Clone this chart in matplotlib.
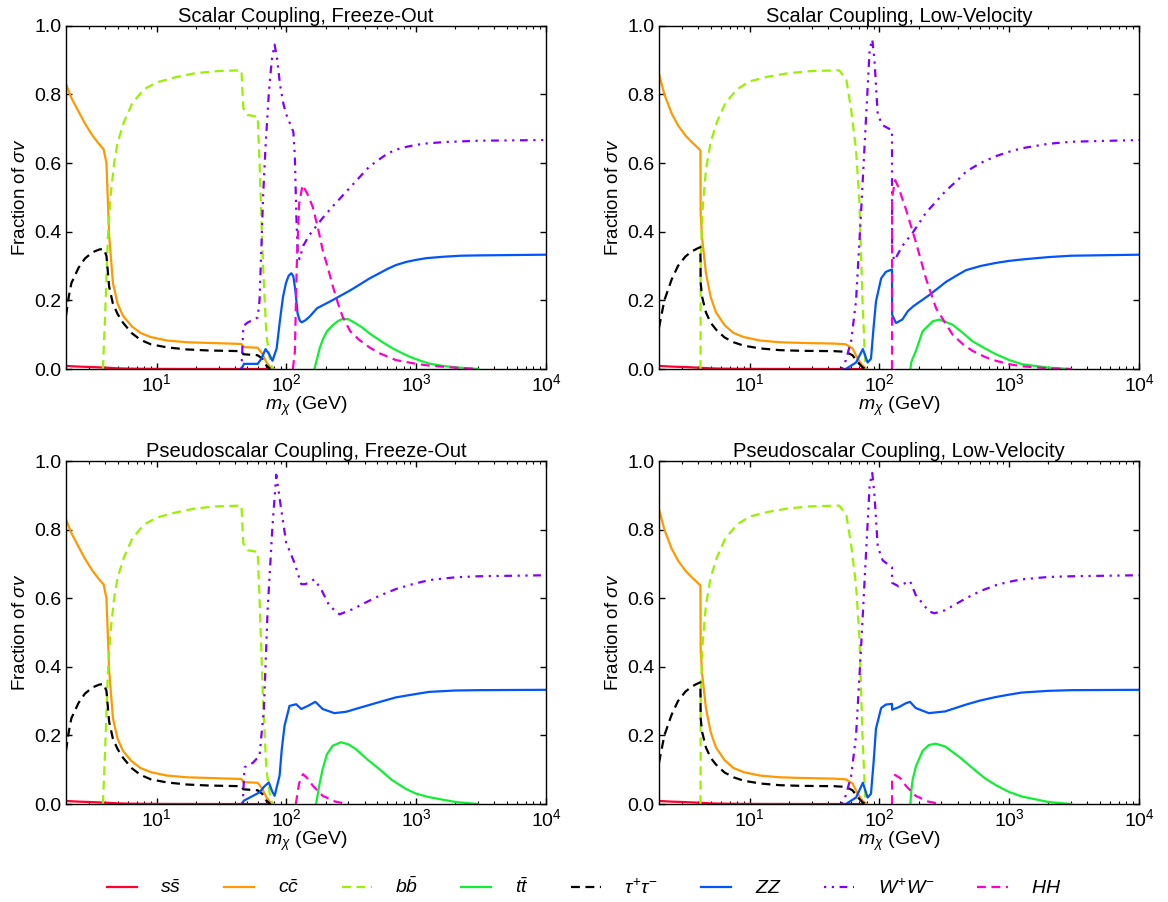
import matplotlib
matplotlib.use("Agg")
import matplotlib.pyplot as plt
from matplotlib.ticker import LogLocator, NullFormatter, FixedLocator

plt.rcParams['font.family'] = ['Liberation Sans', 'DejaVu Sans']
plt.rcParams['mathtext.fontset'] = 'custom'
plt.rcParams['mathtext.rm'] = 'Liberation Sans'
plt.rcParams['mathtext.it'] = 'Liberation Sans:italic'
plt.rcParams['mathtext.bf'] = 'Liberation Sans:bold'

# ---- channel labels ----
labels = [r'$s\bar{s}$', r'$c\bar{c}$', r'$b\bar{b}$', r'$t\bar{t}$',
          r'$\tau^{+}\tau^{-}$', r'$ZZ$', r'$W^{+}W^{-}$', r'$HH$']
titles = ['Scalar Coupling, Freeze-Out', 'Scalar Coupling, Low-Velocity',
          'Pseudoscalar Coupling, Freeze-Out', 'Pseudoscalar Coupling, Low-Velocity']

# ---- light fermions, freeze-out (mass in GeV, fraction of sigma v) ----
fo_ss_m = [2, 2.5, 3, 3.5, 4, 4.5, 5, 6, 8, 12, 30, 80]
fo_ss_f = [0.009, 0.007, 0.006, 0.005, 0.004, 0.003, 0.002, 0.0012, 0.0006, 0.0003, 0.0001, 0]
fo_cc_m = [2, 2.2, 2.5, 2.8, 3.2, 3.6, 3.9, 4.1, 4.3, 4.6, 5.0, 5.5, 6.4, 7.5, 9, 12, 17, 25,
           45, 46.5, 60, 65, 70, 75, 80]
fo_cc_f = [0.83, 0.79, 0.75, 0.715, 0.68, 0.655, 0.64, 0.60, 0.39, 0.25, 0.19, 0.155, 0.125,
           0.105, 0.093, 0.083, 0.078, 0.076, 0.073, 0.064, 0.062, 0.045, 0.02, 0.005, 0]
fo_bb_m = [3.85, 4.0, 4.2, 4.4, 4.7, 5.0, 5.6, 6.5, 8, 10, 14, 20, 30, 45, 46.5, 50, 60,
           62, 66, 70, 75, 78]
fo_bb_f = [0, 0.15, 0.38, 0.5, 0.6, 0.66, 0.72, 0.775, 0.815, 0.835, 0.85, 0.862, 0.868,
           0.87, 0.76, 0.74, 0.735, 0.6, 0.3, 0.1, 0.02, 0]
fo_tau_m = [2, 2.1, 2.2, 2.5, 2.8, 3.2, 3.6, 3.9, 4.1, 4.3, 4.6, 5, 5.5, 6.4, 7.5, 9, 12, 17,
            25, 45, 46.5, 60, 65, 70, 75]
fo_tau_f = [0.155, 0.21, 0.25, 0.295, 0.322, 0.34, 0.348, 0.35, 0.33, 0.24, 0.19, 0.16,
            0.135, 0.105, 0.085, 0.072, 0.063, 0.057, 0.054, 0.052, 0.043, 0.04, 0.03, 0.01, 0]

# ---- light fermions, low-velocity ----
lv_ss_m = [2, 2.5, 3, 3.5, 4, 4.5, 5, 6, 8, 12, 30, 80]
lv_ss_f = [0.009, 0.007, 0.006, 0.005, 0.004, 0.003, 0.002, 0.0012, 0.0006, 0.0003, 0.0001, 0]
lv_cc_m = [2, 2.2, 2.5, 2.8, 3.2, 3.6, 3.9, 4.17, 4.19, 4.3, 4.6, 5.0, 5.5, 6.4, 7.5, 9, 12,
           17, 25, 45, 55, 62, 68, 74, 80]
lv_cc_f = [0.86, 0.8, 0.745, 0.71, 0.68, 0.66, 0.648, 0.637, 0.45, 0.38, 0.28, 0.21, 0.165,
           0.128, 0.105, 0.093, 0.083, 0.078, 0.076, 0.074, 0.072, 0.06, 0.03, 0.01, 0]
lv_bb_m = [4.18, 4.19, 4.3, 4.6, 5, 5.6, 6.5, 8, 10, 14, 20, 30, 49, 55.6, 60.5, 66, 70,
           74, 78]
lv_bb_f = [0, 0.3, 0.45, 0.58, 0.66, 0.72, 0.775, 0.815, 0.838, 0.852, 0.862, 0.868, 0.87,
           0.842, 0.755, 0.638, 0.49, 0.2, 0]
lv_tau_m = [2, 2.2, 2.5, 2.8, 3.2, 3.6, 3.9, 4.17, 4.19, 4.3, 4.6, 5, 5.5, 6.4, 7.5, 9, 12,
            17, 25, 45, 55, 62, 68, 74, 78]
lv_tau_f = [0.12, 0.2, 0.26, 0.3, 0.328, 0.343, 0.35, 0.355, 0.25, 0.21, 0.165, 0.135, 0.115,
            0.092, 0.078, 0.068, 0.06, 0.055, 0.053, 0.052, 0.05, 0.04, 0.02, 0.005, 0]

# ---- scalar, freeze-out: heavy channels ----
sfo_tt_m = [164, 172, 180, 190, 205, 228, 250, 271, 300, 324, 380, 435, 540, 658, 780, 900,
            1080, 1255, 1600, 2000, 3000]
sfo_tt_f = [0, 0.03, 0.06, 0.085, 0.11, 0.128, 0.14, 0.146, 0.145, 0.138, 0.122, 0.104,
            0.08, 0.06, 0.046, 0.035, 0.024, 0.016, 0.009, 0.005, 0]
sfo_zz_m = [45, 47, 60, 64, 69, 73, 78, 84, 89, 94, 99, 104, 109, 113, 117, 122, 127, 131,
            140, 151, 172, 225, 313, 433, 520, 603, 700, 838, 1000, 1200, 1620, 2200, 3130,
            10000]
sfo_zz_f = [0, 0.015, 0.015, 0.03, 0.058, 0.045, 0.024, 0.06, 0.141, 0.21, 0.25, 0.272,
            0.279, 0.27, 0.229, 0.16, 0.14, 0.136, 0.142, 0.153, 0.177, 0.2, 0.23, 0.263,
            0.279, 0.292, 0.303, 0.312, 0.318, 0.323, 0.327, 0.330, 0.331, 0.333]
sfo_ww_m = [45, 46.5, 50, 60, 62, 64, 66, 69, 73, 77, 81, 85, 89, 95, 100, 109, 113, 116,
            119, 122, 126, 135, 150, 161, 190, 225, 313, 433, 520, 603, 700, 838, 1000, 1200,
            1620, 3000, 10000]
sfo_ww_f = [0, 0.125, 0.135, 0.15, 0.2, 0.35, 0.5, 0.65, 0.8, 0.9, 0.945, 0.9, 0.83, 0.77,
            0.74, 0.706, 0.69, 0.62, 0.45, 0.34, 0.32, 0.36, 0.39, 0.405, 0.44, 0.472, 0.531,
            0.589, 0.611, 0.628, 0.639, 0.647, 0.653, 0.657, 0.661, 0.665, 0.667]
sfo_hh_m = [112, 116, 120, 125, 133, 145, 159, 175, 190, 210, 228, 250, 271, 310, 363, 440,
            520, 697, 1000, 1255, 2000, 3000]
sfo_hh_f = [0, 0.05, 0.3, 0.48, 0.536, 0.51, 0.473, 0.41, 0.347, 0.29, 0.24, 0.19, 0.152,
            0.11, 0.085, 0.062, 0.046, 0.026, 0.015, 0.01, 0.004, 0]

# ---- scalar, low-velocity: heavy channels ----
slv_tt_m = [173, 176, 180, 191, 215, 257, 290, 366, 440, 520, 650, 789, 1000, 1250, 2000, 3000]
slv_tt_f = [0, 0.02, 0.03, 0.053, 0.11, 0.139, 0.144, 0.129, 0.105, 0.081, 0.06, 0.043,
            0.026, 0.014, 0.004, 0]
slv_zz_m = [55, 66, 74.5, 81, 86, 90, 94, 103, 112, 124.9, 125.1, 134, 150, 165, 181, 243,
            326, 400, 465, 600, 789, 1000, 1250, 2000, 3000, 10000]
slv_zz_f = [0, 0.019, 0.058, 0.019, 0.03, 0.12, 0.197, 0.264, 0.283, 0.29, 0.158, 0.134,
            0.144, 0.168, 0.182, 0.216, 0.254, 0.274, 0.288, 0.3, 0.309, 0.315, 0.319, 0.326,
            0.33, 0.333]
slv_ww_m = [51, 55, 60.6, 66, 72, 79, 84, 88, 91.5, 97, 106, 124.9, 125.1, 130, 151, 181,
            228, 326, 400, 465, 600, 789, 1000, 1250, 2000, 3000, 10000]
slv_ww_f = [0, 0.025, 0.083, 0.2, 0.45, 0.74, 0.93, 0.96, 0.9, 0.74, 0.71, 0.695, 0.34,
            0.316, 0.36, 0.398, 0.455, 0.52, 0.55, 0.575, 0.6, 0.62, 0.633, 0.643, 0.656,
            0.662, 0.667]
slv_hh_m = [124.9, 125.1, 132, 140, 160, 191, 228, 273, 366, 440, 520, 650, 789, 1000, 1250,
            2000, 3000]
slv_hh_f = [0, 0.5, 0.55, 0.53, 0.465, 0.369, 0.264, 0.177, 0.1, 0.072, 0.053, 0.035, 0.024,
            0.014, 0.008, 0.002, 0]

# ---- pseudoscalar, freeze-out: heavy channels ----
pfo_tt_m = [169, 180, 190, 205, 227, 263, 300, 343, 420, 519, 650, 833, 1000, 1260, 2000, 3000]
pfo_tt_f = [0, 0.06, 0.102, 0.145, 0.17, 0.18, 0.174, 0.16, 0.13, 0.102, 0.07, 0.044, 0.03,
            0.02, 0.006, 0]
pfo_zz_m = [45, 47, 62, 67, 73, 78, 81, 88.5, 92, 96.6, 105.5, 118.7, 130, 146, 167, 190,
            234, 288, 410, 550, 698, 1000, 1260, 2000, 3000, 10000]
pfo_zz_f = [0, 0.01, 0.034, 0.05, 0.063, 0.035, 0.024, 0.083, 0.16, 0.228, 0.286, 0.291,
            0.277, 0.286, 0.298, 0.277, 0.265, 0.269, 0.286, 0.3, 0.311, 0.321, 0.327, 0.331,
            0.332, 0.333]
pfo_ww_m = [46, 47.5, 55, 62, 67, 71.6, 78, 83.4, 91, 99.5, 115, 130, 140, 164, 185, 214,
            256, 324, 420, 519, 700, 937, 1260, 2000, 3000, 10000]
pfo_ww_f = [0, 0.107, 0.12, 0.141, 0.277, 0.568, 0.81, 0.96, 0.86, 0.762, 0.704, 0.641,
            0.641, 0.655, 0.626, 0.578, 0.553, 0.568, 0.59, 0.607, 0.627, 0.641, 0.653, 0.661,
            0.664, 0.667]
pfo_hh_m = [118, 125, 134, 145, 160, 190, 238, 300]
pfo_hh_f = [0, 0.06, 0.087, 0.075, 0.053, 0.024, 0.007, 0]

# ---- pseudoscalar, low-velocity: heavy channels ----
plv_tt_m = [173, 176, 180, 191, 215, 240, 270, 320, 420, 520, 650, 789, 1000, 1250, 2000, 3000]
plv_tt_f = [0, 0.04, 0.07, 0.11, 0.155, 0.172, 0.176, 0.168, 0.135, 0.105, 0.075, 0.055,
            0.035, 0.022, 0.006, 0]
plv_zz_m = [55, 66, 74.5, 81, 86, 90, 94, 103, 112, 124.9, 125.1, 140, 160, 172, 190, 240,
            320, 465, 600, 789, 1000, 1250, 2000, 3000, 10000]
plv_zz_f = [0, 0.019, 0.062, 0.019, 0.03, 0.12, 0.22, 0.28, 0.29, 0.292, 0.275, 0.282,
            0.294, 0.298, 0.28, 0.265, 0.27, 0.29, 0.302, 0.312, 0.319, 0.325, 0.33, 0.332,
            0.333]
plv_ww_m = [51, 55, 60.6, 66, 72, 79, 84, 88, 91.5, 97, 106, 124.9, 125.1, 140, 160, 172,
            190, 240, 265, 320, 465, 600, 789, 1000, 1250, 2000, 3000, 10000]
plv_ww_f = [0, 0.025, 0.083, 0.2, 0.45, 0.74, 0.93, 0.965, 0.9, 0.75, 0.71, 0.69, 0.645,
            0.635, 0.645, 0.65, 0.61, 0.562, 0.556, 0.565, 0.6, 0.621, 0.638, 0.648, 0.655,
            0.662, 0.664, 0.667]
plv_hh_m = [124.9, 125.1, 132, 145, 160, 190, 238, 300]
plv_hh_f = [0, 0.07, 0.085, 0.075, 0.053, 0.024, 0.007, 0]

colors = ['#ff0033', '#ff9900', '#99f000', '#11ee33', '#000000', '#0055ff', '#7f00ff', '#ff00cc']
styles = ['-', '-', (0, (4, 2.5)), '-', (0, (4, 2.5)), '-', (0, (1, 2.5, 1, 2.5, 3.5, 2.5)),
          (0, (4, 2.5))]

panels = [
    [(fo_ss_m, fo_ss_f), (fo_cc_m, fo_cc_f), (fo_bb_m, fo_bb_f), (sfo_tt_m, sfo_tt_f),
     (fo_tau_m, fo_tau_f), (sfo_zz_m, sfo_zz_f), (sfo_ww_m, sfo_ww_f), (sfo_hh_m, sfo_hh_f)],
    [(lv_ss_m, lv_ss_f), (lv_cc_m, lv_cc_f), (lv_bb_m, lv_bb_f), (slv_tt_m, slv_tt_f),
     (lv_tau_m, lv_tau_f), (slv_zz_m, slv_zz_f), (slv_ww_m, slv_ww_f), (slv_hh_m, slv_hh_f)],
    [(fo_ss_m, fo_ss_f), (fo_cc_m, fo_cc_f), (fo_bb_m, fo_bb_f), (pfo_tt_m, pfo_tt_f),
     (fo_tau_m, fo_tau_f), (pfo_zz_m, pfo_zz_f), (pfo_ww_m, pfo_ww_f), (pfo_hh_m, pfo_hh_f)],
    [(lv_ss_m, lv_ss_f), (lv_cc_m, lv_cc_f), (lv_bb_m, lv_bb_f), (plv_tt_m, plv_tt_f),
     (lv_tau_m, lv_tau_f), (plv_zz_m, plv_zz_f), (plv_ww_m, plv_ww_f), (plv_hh_m, plv_hh_f)],
]

fig = plt.figure(figsize=(11.68, 9.02), dpi=100)
boxes = [[0.0565, 0.5909, 0.411, 0.3806], [0.5642, 0.5909, 0.411, 0.3806],
         [0.0565, 0.1086, 0.411, 0.3803], [0.5642, 0.1086, 0.411, 0.3803]]

for k in range(4):
    ax = fig.add_axes(boxes[k])
    for i in range(8):
        m, f = panels[k][i]
        ax.plot(m, f, color=colors[i], linestyle=styles[i], lw=1.6, label=labels[i])
    ax.set_xscale('log')
    ax.set_xlim(2, 1e4)
    ax.set_ylim(0, 1)
    ax.yaxis.set_major_locator(FixedLocator([0, 0.2, 0.4, 0.6, 0.8, 1.0]))
    ax.set_yticklabels(['0.0', '0.2', '0.4', '0.6', '0.8', '1.0'])
    ax.xaxis.set_major_locator(LogLocator(base=10, numticks=10))
    ax.xaxis.set_minor_locator(LogLocator(base=10, subs=range(2, 10), numticks=20))
    ax.xaxis.set_minor_formatter(NullFormatter())
    ax.tick_params(which='both', direction='in', top=True, right=True, labelsize=14, pad=3)
    ax.tick_params(which='major', length=4, width=1)
    ax.tick_params(which='minor', length=2, width=0.8)
    for s in ax.spines.values():
        s.set_linewidth(1)
    ax.set_title(titles[k], fontsize=14.5, pad=2)
    ax.set_xlabel(r'$m_{\chi}$ (GeV)', fontsize=14, labelpad=0)
    ax.set_ylabel(r'Fraction of $\sigma v$', fontsize=13.5, labelpad=4)
    if k == 0:
        handles, labs = ax.get_legend_handles_labels()

fig.legend(handles, labs, loc='center', bbox_to_anchor=(0.5, 0.0166), ncol=8,
           frameon=False, fontsize=14, handlelength=1.55, columnspacing=2.2,
           handletextpad=1.2)

fig.savefig('out.png', dpi=100)
